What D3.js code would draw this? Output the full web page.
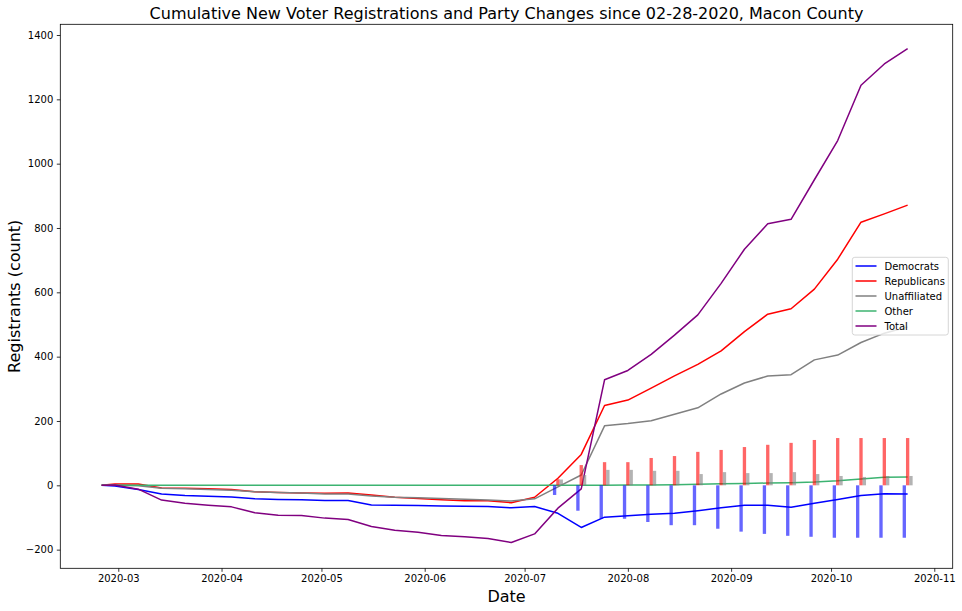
<!DOCTYPE html>
<html><head><meta charset="utf-8">
<script src="https://cdn.jsdelivr.net/npm/d3@7"></script>
<style>
html,body{margin:0;padding:0;background:#fff;}
svg{display:block;font-family:"DejaVu Sans",sans-serif;}
</style></head>
<body><svg id="chart" width="962" height="611"></svg>
<script>
const dates = ["2020-02-25","2020-02-29","2020-03-07","2020-03-14","2020-03-21","2020-03-28","2020-04-04","2020-04-11","2020-04-18","2020-04-25","2020-05-02","2020-05-09","2020-05-16","2020-05-23","2020-05-30","2020-06-06","2020-06-13","2020-06-20","2020-06-27","2020-07-04","2020-07-11","2020-07-18","2020-07-25","2020-08-01","2020-08-08","2020-08-15","2020-08-22","2020-08-29","2020-09-05","2020-09-12","2020-09-19","2020-09-26","2020-10-03","2020-10-10","2020-10-17","2020-10-24"];
const democrats = [0,-2,-13,-27,-32,-34,-36,-42,-44,-45,-47,-47,-61,-62,-63,-64,-65,-66,-70,-66,-87,-131,-99,-95,-90,-87,-79,-70,-62,-62,-68,-56,-44,-32,-26,-27];
const republicans = [0,4,4,-8,-9,-11,-13,-20,-22,-24,-25,-24,-30,-37,-41,-45,-48,-48,-54,-37,22,96,248,265,302,340,376,418,478,532,549,610,703,818,844,871];
const unaffiliated = [0,0,-1,-9,-11,-13,-15,-20,-22,-24,-27,-27,-33,-37,-39,-41,-43,-46,-49,-42,-5,32,185,192,201,221,241,284,318,340,344,390,405,444,473,492];
const other = [0,0,0,0,0,0,0,0,0,0,0,0,0,0,0,0,0,0,0,0,0,0,0,1,1,2,3,5,6,7,8,10,14,20,25,26];
const total = [0,1,-12,-46,-56,-62,-67,-85,-93,-94,-102,-106,-128,-140,-146,-156,-160,-165,-178,-151,-71,-11,328,357,407,467,530,628,734,813,827,950,1072,1244,1310,1358];

const barDates = ["2020-07-11","2020-07-18","2020-07-25","2020-08-01","2020-08-08","2020-08-15","2020-08-22","2020-08-29","2020-09-05","2020-09-12","2020-09-19","2020-09-26","2020-10-03","2020-10-10","2020-10-17","2020-10-24"];
const barDem = [-30,-79,-104,-104,-114,-124,-124,-135,-144,-151,-157,-160,-163,-163,-163,-163];
const barRep = [19,63,72,72,85,91,104,110,119,126,132,141,147,147,147,147];
const barUna = [18,32,48,48,45,45,35,41,38,38,41,35,29,26,29,29];

const yTicks = [-200,0,200,400,600,800,1000,1200,1400];
const xTickLabels = ["2020-03","2020-04","2020-05","2020-06","2020-07","2020-08","2020-09","2020-10","2020-11"];

const titleText = "Cumulative New Voter Registrations and Party Changes since 02-28-2020, Macon County";

const DAY = 86400000;
const parse = s => new Date(s + "T00:00:00Z");
const mar1 = Date.UTC(2020,2,1);

const L = 60.3, R = 952.7, T = 24.3, B = 568.3;
const svg = d3.select("#chart");

const x = d3.scaleUtc().domain([new Date(mar1 - 17.41*DAY), new Date(mar1 + 250.53*DAY)]).range([L, R]);
const y = d3.scaleLinear().domain([-258.0, 1433.3]).range([B, T]);

const series = [
  {name:"Democrats", values:democrats, color:"#0000ff"},
  {name:"Republicans", values:republicans, color:"#ff0000"},
  {name:"Unaffiliated", values:unaffiliated, color:"#808080"},
  {name:"Other", values:other, color:"#3cb371"},
  {name:"Total", values:total, color:"#800080"}
];

const line = d3.line().x(d => x(d.date)).y(d => y(d.v));
const gLines = svg.append("g");
series.forEach(s => {
  const pts = dates.map((d,i) => ({date: parse(d), v: s.values[i]}));
  gLines.append("path").datum(pts).attr("d", line)
    .attr("fill","none").attr("stroke", s.color).attr("stroke-width",1.5)
    .attr("stroke-linejoin","round");
});

// bars: width one day each; blue at date-1, red at date, grey at date+1
const barsSpec = [
  {vals:barDem, off:-1, color:"#0000ff"},
  {vals:barRep, off:0, color:"#ff0000"},
  {vals:barUna, off:1, color:"#808080"}
];
const gBars = svg.append("g");
barsSpec.forEach(b => {
  barDates.forEach((d,i) => {
    const c = parse(d).getTime() + b.off*DAY;
    const x0 = x(new Date(c - 0.5*DAY)), x1 = x(new Date(c + 0.5*DAY));
    const v = b.vals[i];
    gBars.append("rect")
      .attr("x", x0).attr("width", x1 - x0)
      .attr("y", Math.min(y(v), y(0))).attr("height", Math.abs(y(v) - y(0)))
      .attr("fill", b.color).attr("fill-opacity", 0.6);
  });
});

// axes
const xTickDates = xTickLabels.map(s => parse(s + "-01"));
const xAxis = d3.axisBottom(x).tickValues(xTickDates).tickFormat(d3.utcFormat("%Y-%m")).tickSize(3.5).tickPadding(3.5);
const gx = svg.append("g").attr("transform", `translate(0,${B})`).call(xAxis);
const yAxis = d3.axisLeft(y).tickValues(yTicks).tickFormat(d => d < 0 ? "\u2212" + Math.abs(d) : d).tickSize(3.5).tickPadding(3.5);
const gy = svg.append("g").attr("transform", `translate(${L},0)`).call(yAxis);
[gx, gy].forEach(g => {
  g.select(".domain").remove();
  g.selectAll(".tick line").attr("stroke","#000").attr("stroke-width",0.8);
  g.selectAll(".tick text").attr("fill","#000").style("font-size","10px").style("font-family","DejaVu Sans");
});

// frame
svg.append("rect").attr("x", L).attr("y", T).attr("width", R - L).attr("height", B - T)
  .attr("fill","none").attr("stroke","#000").attr("stroke-width",0.8);

// title & labels
svg.append("text").attr("x", (L+R)/2).attr("y", 19).attr("text-anchor","middle")
  .style("font-size","16px").attr("fill","#000").text(titleText);
svg.append("text").attr("x", (L+R)/2).attr("y", 602).attr("text-anchor","middle")
  .style("font-size","16px").attr("fill","#000").text("Date");
svg.append("text").attr("transform", `translate(20,${(T+B)/2}) rotate(-90)`).attr("text-anchor","middle")
  .style("font-size","16px").attr("fill","#000").text("Registrants (count)");

// legend
const lg = svg.append("g");
lg.append("rect").attr("x", 852.3).attr("y", 257.3).attr("width", 96).attr("height", 77.7)
  .attr("rx", 2.5).attr("fill","#fff").attr("fill-opacity",0.8).attr("stroke","#cccccc").attr("stroke-width",0.8);
series.forEach((s,i) => {
  const yy = 266 + i*15;
  lg.append("line").attr("x1", 855.5).attr("x2", 876.5).attr("y1", yy).attr("y2", yy)
    .attr("stroke", s.color).attr("stroke-width",1.5);
  lg.append("text").attr("x", 884.5).attr("y", yy).attr("dy","0.35em")
    .style("font-size","10px").attr("fill","#000").text(s.name);
});
</script></body></html>
